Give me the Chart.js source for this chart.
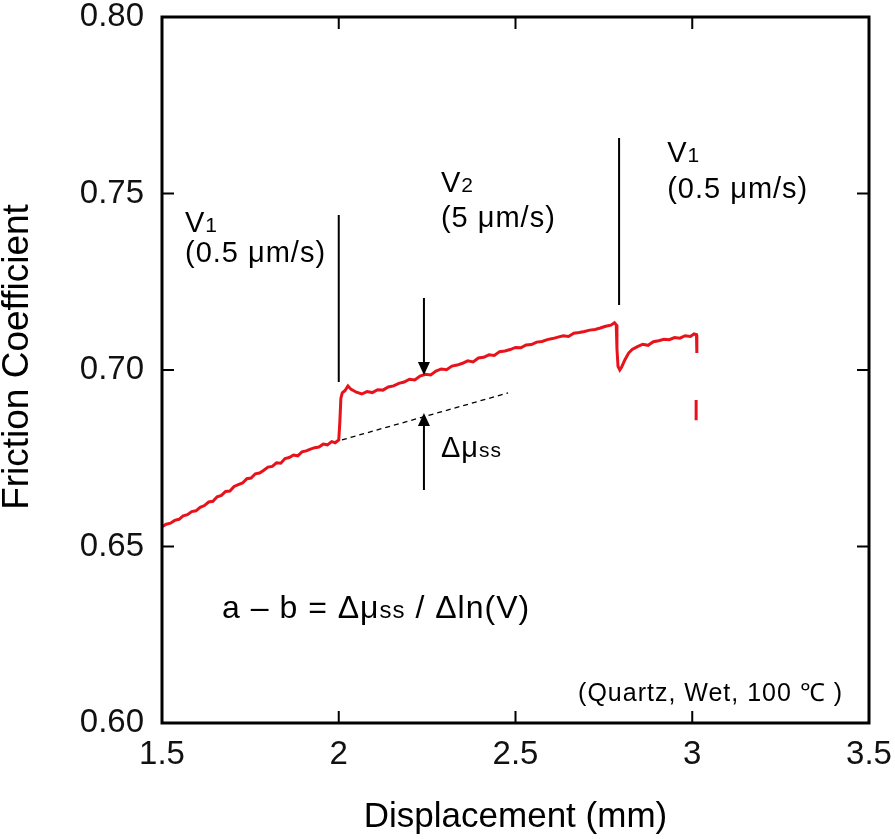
<!DOCTYPE html>
<html>
<head>
<meta charset="utf-8">
<script src="https://cdn.jsdelivr.net/npm/chart.js@4.4.1/dist/chart.umd.min.js"></script>
<style>
html,body{margin:0;padding:0;background:#fff}
#wrap{width:895px;height:839px}
</style>
</head>
<body>
<div id="wrap"><canvas id="chart" width="895" height="839"></canvas></div>
<script>
// displacement (mm) and friction coefficient
const dispMm = [
1.500,1.512,1.524,1.536,1.548,1.560,1.572,1.584,1.596,1.608,
1.620,1.632,1.644,1.656,1.668,1.680,1.692,1.704,1.716,1.728,
1.740,1.752,1.764,1.776,1.788,1.800,1.812,1.824,1.836,1.848,
1.860,1.872,1.884,1.896,1.908,1.920,1.932,1.944,1.956,1.968,
1.980,1.990,2.000,
2.003,2.006,2.010,2.018,2.026,2.035,2.050,2.065,2.080,2.095,2.110,
2.125,2.140,2.155,2.170,2.185,2.200,2.215,2.230,2.245,2.260,
2.275,2.290,2.305,2.320,2.335,2.350,2.365,2.380,2.395,2.410,
2.425,2.440,2.455,2.470,2.485,2.500,2.515,2.530,2.545,2.560,
2.575,2.590,2.605,2.620,2.635,2.650,2.665,2.680,2.695,2.710,
2.725,2.740,2.755,2.770,2.780,2.785,
2.787,2.790,2.795,2.800,2.810,2.820,2.830,2.845,2.860,2.875,
2.890,2.905,2.920,2.935,2.950,2.965,2.980,2.995,3.005,3.012,
3.013,3.012,3.011,3.011
]
const friction = [
0.6556,0.6563,0.6566,0.6574,0.6577,0.6587,0.6590,0.6599,0.6601,0.6611,
0.6616,0.6626,0.6628,0.6641,0.6645,0.6656,0.6657,0.6670,0.6675,0.6680,
0.6692,0.6694,0.6706,0.6708,0.6716,0.6725,0.6727,0.6737,0.6736,0.6749,
0.6752,0.6759,0.6757,0.6768,0.6771,0.6776,0.6780,0.6782,0.6790,0.6788,
0.6797,0.6794,0.6802,
0.6850,0.6920,0.6935,0.6942,0.6955,0.6945,0.6937,0.6932,0.6939,0.6936,0.6944,
0.6943,0.6952,0.6955,0.6962,0.6966,0.6974,0.6972,0.6983,0.6988,0.6986,
0.6997,0.7003,0.7001,0.7011,0.7014,0.7019,0.7026,0.7023,0.7034,0.7036,
0.7043,0.7041,0.7052,0.7054,0.7058,0.7064,0.7063,0.7071,0.7072,0.7079,
0.7081,0.7086,0.7089,0.7093,0.7097,0.7095,0.7104,0.7106,0.7109,0.7113,
0.7115,0.7119,0.7124,0.7127,0.7134,0.7128,
0.7060,0.7010,0.7000,0.7008,0.7030,0.7048,0.7058,0.7066,0.7073,0.7070,
0.7080,0.7083,0.7087,0.7086,0.7092,0.7090,0.7097,0.7095,0.7102,0.7100,
0.7048,null,0.6915,0.6858
]

const xTicks = [1.5,2,2.5,3,3.5]
const xTickLabels = ["1.5","2","2.5","3","3.5"]
const yTicks = [0.60,0.65,0.70,0.75,0.80]
const yTickLabels = ["0.60","0.65","0.70","0.75","0.80"]

// velocity step markers (x, y from, y to)
const stepLineX = [2.0,2.793]
const stepLineTop = [0.7439,0.7657]
const stepLineBottom = [0.6966,0.7184]

// extrapolated steady state (dashed) and the two arrows
const dashX = [2.009,2.479]
const dashY = [0.6802,0.6935]
const arrowX = 2.241
const arrowDownY = [0.7204,0.6986]
const arrowUpY = [0.6660,0.6878]

// text labels: [x, y, main, subscript]
const labels = [
[1.565,0.7391,"V","1"],
[1.565,0.7306,"(0.5 μm/s)",""],
[2.289,0.7504,"V","2"],
[2.289,0.7405,"(5 μm/s)",""],
[2.929,0.7589,"V","1"],
[2.929,0.7487,"(0.5 μm/s)",""],
[2.289,0.6754,"Δμ","ss"]
]

const FONT = "'Liberation Sans', Arial, sans-serif"

const frictionPts = dispMm.map((x,i)=>({x:x,y:friction[i]}))

const blackLine = (pts,dash)=>({
data:pts,
borderColor:"#000",
borderWidth:dash ? 1.3 : 2,
borderDash:dash ? [5,4] : [],
pointRadius:0,
fill:false
})

const datasets = [
{
data:frictionPts,
borderColor:"#e8121a",
borderWidth:3,
pointRadius:0,
tension:0,
spanGaps:false,
fill:false
}
]
stepLineX.forEach((x,i)=>{
datasets.push(blackLine([{x:x,y:stepLineTop[i]},{x:x,y:stepLineBottom[i]}]))
})
datasets.push(blackLine([{x:dashX[0],y:dashY[0]},{x:dashX[1],y:dashY[1]}],true))
datasets.push(blackLine([{x:arrowX,y:arrowDownY[0]},{x:arrowX,y:arrowDownY[1]+0.003}]))
datasets.push(blackLine([{x:arrowX,y:arrowUpY[0]},{x:arrowX,y:arrowUpY[1]-0.003}]))

const decor = {
id:"decor",
afterDatasetsDraw(chart){
const ctx = chart.ctx
const xs = chart.scales.x
const ys = chart.scales.y
const a = chart.chartArea

ctx.save()

// frame
ctx.strokeStyle = "#000"
ctx.lineWidth = 3
ctx.strokeRect(a.left,a.top,a.right-a.left,a.bottom-a.top)

// inward ticks on all sides
ctx.lineWidth = 2
const tl = 12
xTicks.forEach(v=>{
const px = xs.getPixelForValue(v)
ctx.beginPath()
ctx.moveTo(px,a.bottom); ctx.lineTo(px,a.bottom-tl)
ctx.moveTo(px,a.top); ctx.lineTo(px,a.top+tl)
ctx.stroke()
})
yTicks.forEach(v=>{
const py = ys.getPixelForValue(v)
ctx.beginPath()
ctx.moveTo(a.left,py); ctx.lineTo(a.left+tl,py)
ctx.moveTo(a.right,py); ctx.lineTo(a.right-tl,py)
ctx.stroke()
})

// arrow heads
ctx.fillStyle = "#000"
const head = (x,y,dir)=>{
const px = xs.getPixelForValue(x)
const py = ys.getPixelForValue(y)
ctx.beginPath()
ctx.moveTo(px,py)
ctx.lineTo(px-6,py-13*dir)
ctx.lineTo(px+6,py-13*dir)
ctx.closePath()
ctx.fill()
}
head(arrowX,arrowDownY[1],1)
head(arrowX,arrowUpY[1],-1)

// labels
ctx.textBaseline = "alphabetic"
ctx.textAlign = "left"
ctx.letterSpacing = "1px"
labels.forEach(l=>{
const px = xs.getPixelForValue(l[0])
const py = ys.getPixelForValue(l[1])
ctx.font = "29px " + FONT
ctx.fillText(l[2],px,py)
if(l[3]){
const w = ctx.measureText(l[2]).width
ctx.font = "21px " + FONT
ctx.fillText(l[3],px+w,py)
}
})

// formula
let fx = xs.getPixelForValue(1.670)
const fy = ys.getPixelForValue(0.6297)
const parts = [["a – b = Δμ",32],["ss",24],[" / Δln(V)",32]]
parts.forEach(p=>{
ctx.font = p[1] + "px " + FONT
ctx.fillText(p[0],fx,fy)
fx += ctx.measureText(p[0]).width
})

// sample note
ctx.font = "25px " + FONT
ctx.fillText("(Quartz, Wet, 100 ℃ )",xs.getPixelForValue(2.677),ys.getPixelForValue(0.6062))
ctx.letterSpacing = "0px"

// y axis title
ctx.translate(18,357)
ctx.rotate(-Math.PI/2)
ctx.textAlign = "center"
ctx.textBaseline = "middle"
ctx.font = "37px " + FONT
ctx.fillText("Friction Coefficient",0,0)

ctx.restore()
}
}

new Chart(document.getElementById("chart"),{
type:"line",
data:{datasets:datasets},
options:{
responsive:false,
animation:false,
events:[],
layout:{padding:{top:17,right:26,left:0,bottom:0}},
plugins:{legend:{display:false},tooltip:{enabled:false}},
scales:{
x:{
type:"linear",
min:1.5,
max:3.5,
afterBuildTicks:s=>{s.ticks = xTicks.map(v=>({value:v}))},
afterFit:s=>{s.height = 116; s.paddingLeft = 0; s.paddingRight = 0},
grid:{display:false,drawTicks:false},
border:{display:false},
ticks:{
color:"#111",
padding:12,
font:{family:FONT,size:33},
callback:(v)=>xTickLabels[xTicks.indexOf(v)]
},
title:{
display:true,
text:"Displacement (mm)",
color:"#000",
font:{family:FONT,size:35},
padding:{top:0,bottom:1}
}
},
y:{
min:0.6,
max:0.8,
afterBuildTicks:s=>{s.ticks = yTicks.map(v=>({value:v}))},
afterFit:s=>{s.width = 162; s.paddingTop = 0; s.paddingBottom = 0},
grid:{display:false,drawTicks:false},
border:{display:false},
ticks:{
color:"#111",
padding:18,
font:{family:FONT,size:33},
callback:(v)=>yTickLabels[yTicks.findIndex(t=>Math.abs(t-v)<1e-9)]
},
title:{display:false}
}
}
},
plugins:[decor]
})
</script>
</body>
</html>
